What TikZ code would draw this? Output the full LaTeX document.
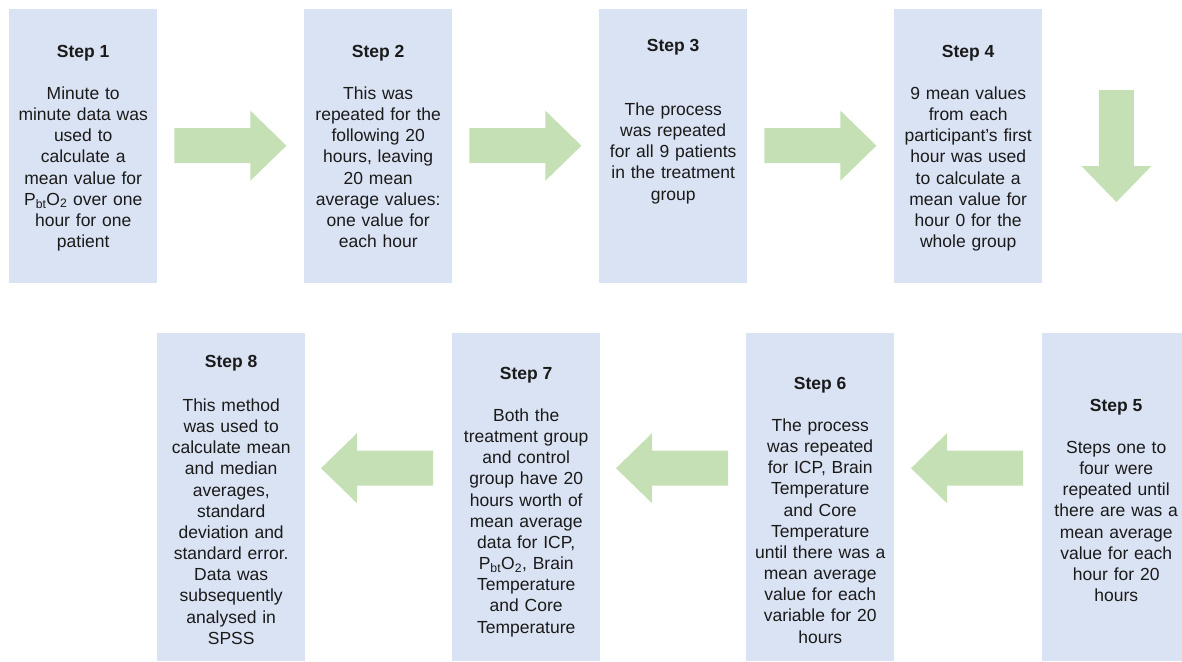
\documentclass[tikz,border=0pt]{standalone}
\usepackage{fontspec}
\setmainfont{Liberation Sans}
\usetikzlibrary{calc}
\definecolor{boxfill}{HTML}{DAE3F3}
\definecolor{arrowfill}{HTML}{C5E0B4}
\definecolor{ink}{HTML}{1A1A1A}
\newcommand{\pbto}{P\textsubscript{bt}O\textsubscript{2}}

\begin{document}
\begin{tikzpicture}[x=1pt,y=-1pt,
  stepbox/.style={fill=boxfill, draw=none, inner sep=0pt, minimum width=148pt, anchor=north west},
  toprow/.style={stepbox, minimum height=274pt},
  bottomrow/.style={stepbox, minimum height=328pt},
  steptitle/.style={font=\fontsize{17.5}{21.15}\selectfont\bfseries, anchor=base, inner sep=0pt, text=ink},
  stepbody/.style={font=\fontsize{17.5}{21.15}\selectfont, anchor=base, inner sep=0pt,
                   text width=170pt, align=center, text=ink},
  blockarrow/.pic={\fill[arrowfill] (0,-17.5) -- (76,-17.5) -- (76,-35) -- (112,0)
                   -- (76,35) -- (76,17.5) -- (0,17.5) -- cycle;}
]
\path[use as bounding box] (0,0) rectangle (1182,661);
\clip (0,0) rectangle (1182,661);

% boxes of the first row
\node[toprow] (s1) at (9,9) {};
\node[toprow] (s2) at (304,9) {};
\node[toprow] (s3) at (599,9) {};
\node[toprow] (s4) at (894,9) {};
% boxes of the second row
\node[bottomrow] (s8) at (157,333) {};
\node[bottomrow] (s7) at (452,333) {};
\node[bottomrow] (s6) at (746,333) {};
\node[bottomrow] (s5) at (1042,333) {};

% texts
\node[steptitle] (t1) at (s1.center |- 0,57) {Step 1};
\node[stepbody] (b1) at (s1.center |- 0,99.5) {Minute to\\minute data was\\used to\\calculate a\\mean value for\\\pbto{} over one\\hour for one\\patient};

\node[steptitle] (t2) at (s2.center |- 0,57) {Step 2};
\node[stepbody] (b2) at (s2.center |- 0,99.5) {This was\\repeated for the\\following 20\\hours, leaving\\20 mean\\average values:\\one value for\\each hour};

\node[steptitle] (t3) at (s3.center |- 0,52) {Step 3};
\node[stepbody] (b3) at (s3.center |- 0,115.5) {The process\\was repeated\\for all 9 patients\\in the treatment\\group};

\node[steptitle] (t4) at (s4.center |- 0,57) {Step 4};
\node[stepbody] (b4) at (s4.center |- 0,99.5) {9 mean values\\from each\\participant’s first\\hour was used\\to calculate a\\mean value for\\hour 0 for the\\whole group};

\node[steptitle] (t5) at (s5.center |- 0,411.5) {Step 5};
\node[stepbody] (b5) at (s5.center |- 0,453.5) {Steps one to\\four were\\repeated until\\there are was a\\mean average\\value for each\\hour for 20\\hours};

\node[steptitle] (t6) at (s6.center |- 0,389.5) {Step 6};
\node[stepbody] (b6) at (s6.center |- 0,431.5) {The process\\was repeated\\for ICP, Brain\\Temperature\\and Core\\Temperature\\until there was a\\mean average\\value for each\\variable for 20\\hours};

\node[steptitle] (t7) at (s7.center |- 0,379.5) {Step 7};
\node[stepbody] (b7) at (s7.center |- 0,421.5) {Both the\\treatment group\\and control\\group have 20\\hours worth of\\mean average\\data for ICP,\\\pbto, Brain\\Temperature\\and Core\\Temperature};

\node[steptitle] (t8) at (s8.center |- 0,367.5) {Step 8};
\node[stepbody] (b8) at (s8.center |- 0,411.5) {This method\\was used to\\calculate mean\\and median\\averages,\\standard\\deviation and\\standard error.\\Data was\\subsequently\\analysed in\\SPSS};

% block arrows between the steps
\pic at ($(s1.east)+(17,-0.5)$) {blockarrow};
\pic at ($(s2.east)+(17,-0.5)$) {blockarrow};
\pic at ($(s3.east)+(17,-0.5)$) {blockarrow};
\pic[rotate=-90] at ($(s4.north east)+(74,81)$) {blockarrow};
\pic[rotate=180] at ($(s5.west)+(-19,-29)$) {blockarrow};
\pic[rotate=180] at ($(s6.west)+(-18,-29)$) {blockarrow};
\pic[rotate=180] at ($(s7.west)+(-19,-29)$) {blockarrow};
\end{tikzpicture}
\end{document}
